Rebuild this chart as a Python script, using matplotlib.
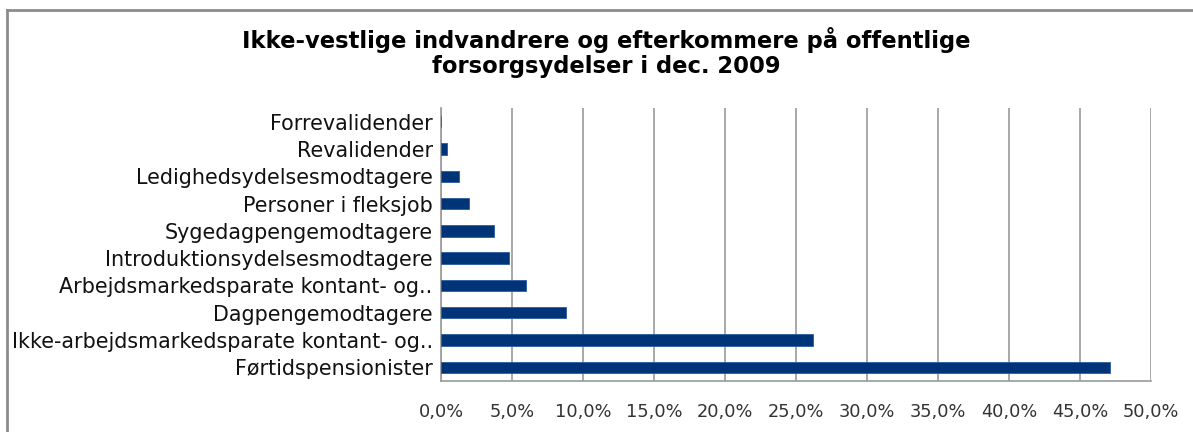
import numpy as np
import matplotlib.pyplot as plt
from matplotlib.lines import Line2D
from matplotlib.ticker import FuncFormatter

# categories listed bottom -> top
categories = [
    'Førtidspensionister',
    'Ikke-arbejdsmarkedsparate kontant- og..',
    'Dagpengemodtagere',
    'Arbejdsmarkedsparate kontant- og..',
    'Introduktionsydelsesmodtagere',
    'Sygedagpengemodtagere',
    'Personer i fleksjob',
    'Ledighedsydelsesmodtagere',
    'Revalidender',
    'Forrevalidender',
]
shares = [47.1, 26.2, 8.8, 6.0, 4.8, 3.7, 1.95, 1.3, 0.4, 0.0]
x_ticks = [0, 5, 10, 15, 20, 25, 30, 35, 40, 45, 50]
title_lines = ['Ikke-vestlige indvandrere og efterkommere på offentlige',
               'forsorgsydelser i dec. 2009']

plt.rcParams['font.family'] = ['DejaVu Sans']

fig = plt.figure(figsize=(11.93, 4.32), dpi=100)
ax = fig.add_axes([441 / 1193, 1 - 381 / 432, (1151 - 441) / 1193, 273 / 432])

y = np.arange(len(categories))
ax.barh(y, shares, height=0.42, color='#003478', edgecolor='#2a5d9f', linewidth=0.6, zorder=3)

ax.set_xlim(0, 50)
ax.set_ylim(-0.5, len(categories) - 0.5)
ax.set_xticks(x_ticks)
ax.xaxis.set_major_formatter(FuncFormatter(lambda v, p: f'{v:.1f}%'.replace('.', ',')))
ax.set_yticks(y)
ax.set_yticklabels(categories)
ax.tick_params(axis='y', length=0, pad=6, labelsize=14.9, colors='#111111')
ax.tick_params(axis='x', length=0, pad=16, labelsize=12.8, colors='#333333')
ax.grid(axis='x', color='#9a9a9a', linewidth=1.2, zorder=0)
for s in ['top', 'right']:
    ax.spines[s].set_visible(False)
ax.spines['left'].set_color('#9a9a9a')
ax.spines['bottom'].set_color('#9a9a9a')
ax.spines['left'].set_linewidth(1.2)
ax.spines['bottom'].set_linewidth(1.2)

fig.text(606 / 1193, 1 - 40 / 432, title_lines[0], ha='center', va='center',
         fontsize=16.3, fontweight='bold')
fig.text(606 / 1193, 1 - 66 / 432, title_lines[1], ha='center', va='center',
         fontsize=16.3, fontweight='bold')

# outer chart frame (only left and top edges visible in crop)
fig.add_artist(Line2D([7 / 1193, 7 / 1193], [0, 1 - 10 / 432], transform=fig.transFigure, color='#8c8c8c', lw=2))
fig.add_artist(Line2D([7 / 1193, 1], [1 - 10 / 432, 1 - 10 / 432], transform=fig.transFigure, color='#8c8c8c', lw=2))

fig.savefig('out.png', dpi=100)
